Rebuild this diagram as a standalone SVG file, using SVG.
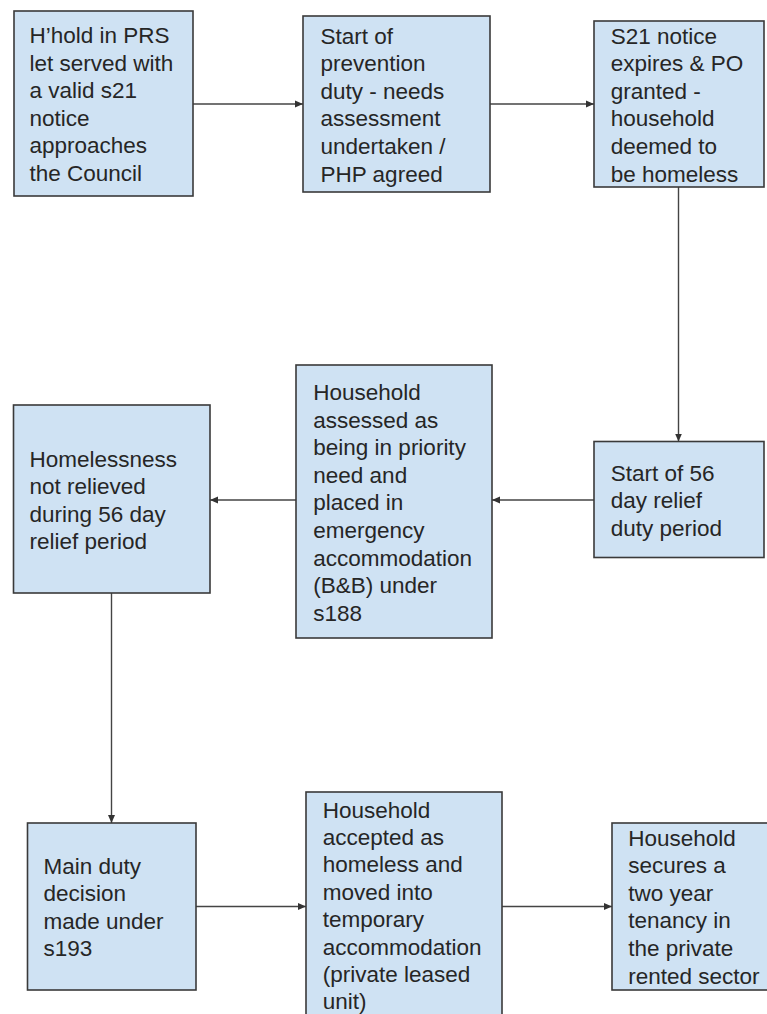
<svg xmlns="http://www.w3.org/2000/svg" width="767" height="1014" viewBox="0 0 767 1014">
<style>
.box{fill:#cfe2f3;stroke:#3a3a3a;stroke-width:1.6}
.t{font-family:"Liberation Sans",Arial,sans-serif;font-size:22.5px;fill:#262626}
.c{stroke:#444;stroke-width:1.4;fill:none}
</style>
<defs>
<marker id="ah" markerWidth="10" markerHeight="8" refX="8" refY="4" orient="auto" markerUnits="userSpaceOnUse">
<path d="M0,0.5 L8,4 L0,7.5 Z" fill="#333"/>
</marker>
</defs>
<rect width="767" height="1014" fill="#fff"/>
<g id="connectors">
<line class="c" x1="193" y1="104" x2="303" y2="104" marker-end="url(#ah)"/>
<line class="c" x1="490" y1="104" x2="594" y2="104" marker-end="url(#ah)"/>
<line class="c" x1="678.5" y1="187" x2="678.5" y2="441.5" marker-end="url(#ah)"/>
<line class="c" x1="594" y1="500" x2="492" y2="500" marker-end="url(#ah)"/>
<line class="c" x1="296" y1="500" x2="210" y2="500" marker-end="url(#ah)"/>
<line class="c" x1="111.5" y1="593" x2="111.5" y2="823" marker-end="url(#ah)"/>
<line class="c" x1="196" y1="906.5" x2="306" y2="906.5" marker-end="url(#ah)"/>
<line class="c" x1="502" y1="906.5" x2="612" y2="906.5" marker-end="url(#ah)"/>
</g>
<g id="n1">
<rect class="box" x="14" y="11" width="179" height="185"/>
<text class="t" x="29.5" y="43"><tspan x="29.5">H’hold in PRS</tspan><tspan x="29.5" dy="27.6">let served with</tspan><tspan x="29.5" dy="27.6">a valid s21</tspan><tspan x="29.5" dy="27.6">notice</tspan><tspan x="29.5" dy="27.6">approaches</tspan><tspan x="29.5" dy="27.6">the Council</tspan></text>
</g>
<g id="n2">
<rect class="box" x="303" y="16" width="187" height="176"/>
<text class="t" x="320.5" y="43.5"><tspan x="320.5">Start of</tspan><tspan x="320.5" dy="27.6">prevention</tspan><tspan x="320.5" dy="27.6">duty - needs</tspan><tspan x="320.5" dy="27.6">assessment</tspan><tspan x="320.5" dy="27.6">undertaken /</tspan><tspan x="320.5" dy="27.6">PHP agreed</tspan></text>
</g>
<g id="n3">
<rect class="box" x="594" y="21" width="170" height="166"/>
<text class="t" x="610.7" y="43.5"><tspan x="610.7">S21 notice</tspan><tspan x="610.7" dy="27.6">expires &amp; PO</tspan><tspan x="610.7" dy="27.6">granted -</tspan><tspan x="610.7" dy="27.6">household</tspan><tspan x="610.7" dy="27.6">deemed to</tspan><tspan x="610.7" dy="27.6">be homeless</tspan></text>
</g>
<g id="n4">
<rect class="box" x="594" y="441.5" width="170" height="116"/>
<text class="t" x="610.7" y="480.5"><tspan x="610.7">Start of 56</tspan><tspan x="610.7" dy="27.6">day relief</tspan><tspan x="610.7" dy="27.6">duty period</tspan></text>
</g>
<g id="n5">
<rect class="box" x="296" y="365" width="196" height="273"/>
<text class="t" x="313.3" y="400"><tspan x="313.3">Household</tspan><tspan x="313.3" dy="27.6">assessed as</tspan><tspan x="313.3" dy="27.6">being in priority</tspan><tspan x="313.3" dy="27.6">need and</tspan><tspan x="313.3" dy="27.6">placed in</tspan><tspan x="313.3" dy="27.6">emergency</tspan><tspan x="313.3" dy="27.6">accommodation</tspan><tspan x="313.3" dy="27.6">(B&amp;B) under</tspan><tspan x="313.3" dy="27.6">s188</tspan></text>
</g>
<g id="n6">
<rect class="box" x="13.5" y="405" width="196.5" height="188"/>
<text class="t" x="29.5" y="466.5"><tspan x="29.5">Homelessness</tspan><tspan x="29.5" dy="27.6">not relieved</tspan><tspan x="29.5" dy="27.6">during 56 day</tspan><tspan x="29.5" dy="27.6">relief period</tspan></text>
</g>
<g id="n7">
<rect class="box" x="27.5" y="823" width="168.5" height="167"/>
<text class="t" x="43.5" y="873.5"><tspan x="43.5">Main duty</tspan><tspan x="43.5" dy="27.6">decision</tspan><tspan x="43.5" dy="27.6">made under</tspan><tspan x="43.5" dy="27.6">s193</tspan></text>
</g>
<g id="n8">
<rect class="box" x="306" y="792" width="196" height="232"/>
<text class="t" x="322.7" y="817.5"><tspan x="322.7">Household</tspan><tspan x="322.7" dy="27.4">accepted as</tspan><tspan x="322.7" dy="27.4">homeless and</tspan><tspan x="322.7" dy="27.4">moved into</tspan><tspan x="322.7" dy="27.4">temporary</tspan><tspan x="322.7" dy="27.4">accommodation</tspan><tspan x="322.7" dy="27.4">(private leased</tspan><tspan x="322.7" dy="27.4">unit)</tspan></text>
</g>
<g id="n9">
<rect class="box" x="612" y="823" width="165" height="167"/>
<text class="t" x="628.3" y="845.5"><tspan x="628.3">Household</tspan><tspan x="628.3" dy="27.6">secures a</tspan><tspan x="628.3" dy="27.6">two year</tspan><tspan x="628.3" dy="27.6">tenancy in</tspan><tspan x="628.3" dy="27.6">the private</tspan><tspan x="628.3" dy="27.6">rented sector</tspan></text>
</g>
</svg>
